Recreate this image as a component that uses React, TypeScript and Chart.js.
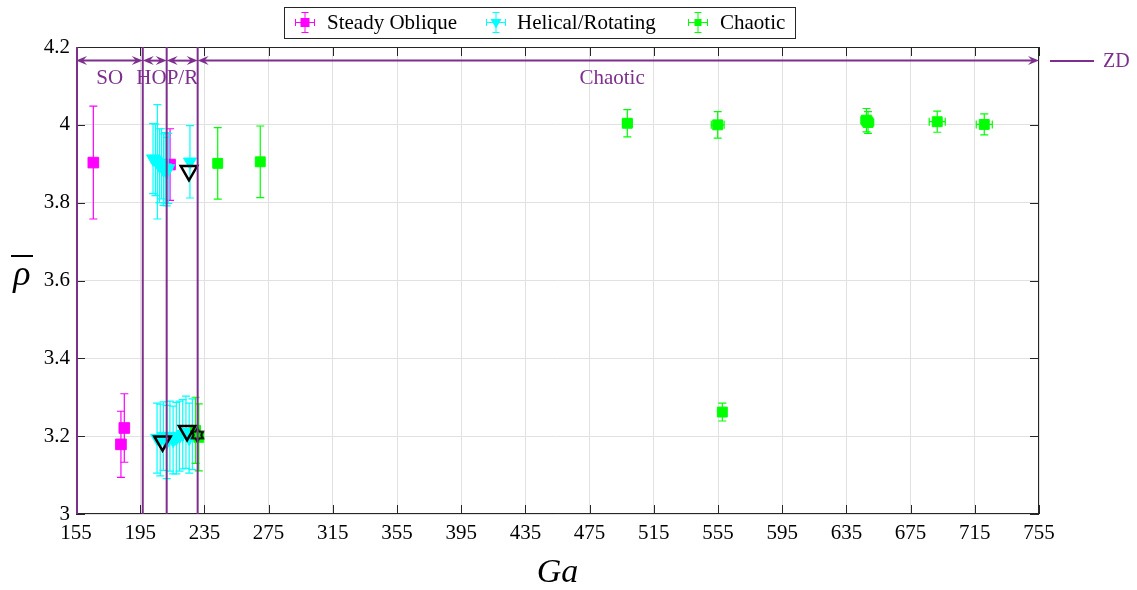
import React, { useEffect, useRef } from 'react';
import { Chart, registerables } from 'chart.js';

Chart.register(...registerables);

// ---------------- data ----------------
const soGa = [165.8, 213.6, 185.1, 183.0];
const soRho = [3.903, 3.898, 3.221, 3.179];
const soRhoErr = [0.145, 0.092, 0.088, 0.085];
const soGaErr = [2.0, 1.2, 1.5, 1.5];

const hrGa = [203.0, 204.5, 205.7, 207.0, 208.2, 209.5, 210.5, 211.5, 212.5, 226.0,
  205.5, 207.5, 209.5, 211.5, 213.5, 215.5, 217.5, 219.5, 221.5, 223.5, 225.5, 227.5];
const hrRho = [3.913, 3.91, 3.905, 3.895, 3.9, 3.885, 3.89, 3.88, 3.888, 3.905,
  3.195, 3.19, 3.2, 3.185, 3.2, 3.19, 3.195, 3.2, 3.205, 3.21, 3.195, 3.205];
const hrRhoErr = [0.09, 0.092, 0.147, 0.095, 0.09, 0.092, 0.09, 0.088, 0.09, 0.093,
  0.09, 0.092, 0.088, 0.094, 0.09, 0.087, 0.092, 0.09, 0.089, 0.093, 0.09, 0.091];
const hrGaErr = [1.2, 1.2, 1.2, 1.2, 1.2, 1.2, 1.2, 1.2, 1.2, 1.2,
  1.2, 1.2, 1.2, 1.2, 1.2, 1.2, 1.2, 1.2, 1.2, 1.2, 1.2, 1.2];

const chGa = [229.5, 231.5, 243.3, 269.8, 498.5, 554.8, 557.7, 647.5, 648.5, 691.6, 720.9];
const chRho = [3.215, 3.197, 3.901, 3.905, 4.004, 4.0, 3.262, 4.012, 4.006, 4.008, 4.001];
const chRhoErr = [0.085, 0.086, 0.092, 0.092, 0.035, 0.034, 0.023, 0.03, 0.028, 0.027, 0.027];
const chGaErr = [1.5, 1.5, 1.5, 1.5, 3.0, 4.0, 2.0, 3.5, 3.5, 5.0, 5.0];

const refTriGa = [225.4, 208.9, 224.2];
const refTriRho = [3.882, 3.187, 3.214];
const refStarGa = [230.6];
const refStarRho = [3.203];

const seriesLabels = ['Steady Oblique', 'Helical/Rotating', 'Chaotic'];

const regimeBounds = [155, 196.6, 211.5, 230.8, 755];
const regimeLabels = ['SO', 'HO', 'P/R', 'Chaotic'];
const regimeLabelGa = [176, 211.5, 211.5, 489];
const regimeLabelAlign: CanvasTextAlign[] = ['center', 'right', 'left', 'center'];
const arrowRho = 4.165;
const regimeLabelRho = 4.118;

const xMin = 155, xMax = 755, xStep = 40;
const yMin = 3, yMax = 4.2, yStep = 0.2;

// ---------------- styles ----------------
const MAGENTA = '#FF00FF';
const CYAN = '#00FFFF';
const GREEN = '#00FF00';
const PURPLE = '#7E2F8E';
const AXIS = '#262626';
const GRID = '#e1e1e1';
const FONT = '"Liberation Serif", "Times New Roman", serif';

function pts(xs: number[], ys: number[]) {
  return xs.map((x, i) => ({ x, y: ys[i] }));
}

function makeHexagram(size: number, color: string, lw: number) {
  const c = document.createElement('canvas');
  c.width = size; c.height = size;
  const ctx = c.getContext('2d')!;
  const cx = size / 2, cy = size / 2;
  const r = size / 2 - lw;
  const ri = r / Math.sqrt(3);
  ctx.beginPath();
  for (let k = 0; k < 12; k++) {
    const a = -Math.PI / 2 + (k * Math.PI) / 6;
    const rr = k % 2 === 0 ? r : ri;
    const px = cx + rr * Math.cos(a), py = cy + rr * Math.sin(a);
    if (k === 0) ctx.moveTo(px, py); else ctx.lineTo(px, py);
  }
  ctx.closePath();
  ctx.lineWidth = lw;
  ctx.strokeStyle = color;
  ctx.stroke();
  return c;
}

const errorBarPlugin = {
  id: 'errorBars',
  beforeDatasetDraw(chart: any, args: any) {
    const ds = chart.data.datasets[args.index];
    if (!ds.errY) return;
    const xs = chart.scales.x, ys = chart.scales.y;
    const ctx = chart.ctx;
    const area = chart.chartArea;
    ctx.save();
    ctx.beginPath();
    ctx.rect(area.left, area.top, area.right - area.left, area.bottom - area.top);
    ctx.clip();
    ctx.strokeStyle = ds.errColor;
    ctx.lineWidth = 1.2;
    const cap = 4;
    ds.data.forEach((p: any, i: number) => {
      const px = xs.getPixelForValue(p.x);
      const py = ys.getPixelForValue(p.y);
      const yTop = ys.getPixelForValue(p.y + ds.errY[i]);
      const yBot = ys.getPixelForValue(p.y - ds.errY[i]);
      const xL = xs.getPixelForValue(p.x - ds.errX[i]);
      const xR = xs.getPixelForValue(p.x + ds.errX[i]);
      ctx.beginPath();
      ctx.moveTo(px, yTop); ctx.lineTo(px, yBot);
      ctx.moveTo(px - cap, yTop); ctx.lineTo(px + cap, yTop);
      ctx.moveTo(px - cap, yBot); ctx.lineTo(px + cap, yBot);
      ctx.moveTo(xL, py); ctx.lineTo(xR, py);
      ctx.moveTo(xL, py - cap); ctx.lineTo(xL, py + cap);
      ctx.moveTo(xR, py - cap); ctx.lineTo(xR, py + cap);
      ctx.stroke();
    });
    ctx.restore();
  },
};

function drawArrowHead(ctx: CanvasRenderingContext2D, tx: number, ty: number, dir: number) {
  const len = 11, half = 4.5, notch = 7;
  ctx.beginPath();
  ctx.moveTo(tx, ty);
  ctx.lineTo(tx - dir * len, ty - half);
  ctx.lineTo(tx - dir * notch, ty);
  ctx.lineTo(tx - dir * len, ty + half);
  ctx.closePath();
  ctx.fill();
}

const framePlugin = {
  id: 'frameAndRegimes',
  afterDatasetsDraw(chart: any) {
    const ctx: CanvasRenderingContext2D = chart.ctx;
    const { left, right, top, bottom } = chart.chartArea;
    const xs = chart.scales.x, ys = chart.scales.y;
    ctx.save();
    ctx.strokeStyle = AXIS;
    ctx.lineWidth = 1;
    ctx.strokeRect(left + 0.5, top + 0.5, right - left - 1, bottom - top - 1);
    const tl = 9;
    ctx.beginPath();
    xs.ticks.forEach((t: any) => {
      const px = Math.round(xs.getPixelForValue(t.value)) + 0.5;
      ctx.moveTo(px, bottom); ctx.lineTo(px, bottom - tl);
      ctx.moveTo(px, top); ctx.lineTo(px, top + tl);
    });
    ys.ticks.forEach((t: any) => {
      const py = Math.round(ys.getPixelForValue(t.value)) + 0.5;
      ctx.moveTo(left, py); ctx.lineTo(left + tl, py);
      ctx.moveTo(right, py); ctx.lineTo(right - tl, py);
    });
    ctx.stroke();

    ctx.strokeStyle = PURPLE;
    ctx.fillStyle = PURPLE;
    ctx.lineWidth = 2;
    for (let i = 0; i < regimeBounds.length - 1; i++) {
      const px = xs.getPixelForValue(regimeBounds[i]) + (i === 0 ? 1 : 0);
      ctx.beginPath();
      ctx.moveTo(px, top); ctx.lineTo(px, bottom);
      ctx.stroke();
    }
    const ay = ys.getPixelForValue(arrowRho);
    for (let i = 0; i < regimeBounds.length - 1; i++) {
      const x0 = xs.getPixelForValue(regimeBounds[i]);
      const x1 = xs.getPixelForValue(regimeBounds[i + 1]);
      ctx.beginPath();
      ctx.moveTo(x0 + 6, ay); ctx.lineTo(x1 - 6, ay);
      ctx.stroke();
      drawArrowHead(ctx, x0, ay, -1);
      drawArrowHead(ctx, x1, ay, 1);
    }
    ctx.font = `21px ${FONT}`;
    ctx.textBaseline = 'middle';
    const ly = ys.getPixelForValue(regimeLabelRho);
    regimeLabels.forEach((lab, i) => {
      ctx.textAlign = regimeLabelAlign[i];
      ctx.fillText(lab, xs.getPixelForValue(regimeLabelGa[i]), ly);
    });
    ctx.restore();
  },
};

const overlayPlugin = {
  id: 'overlay',
  afterDraw(chart: any) {
    const ctx: CanvasRenderingContext2D = chart.ctx;
    ctx.save();
    const bx = 284, by = 7, bw = 511, bh = 31;
    ctx.fillStyle = '#ffffff';
    ctx.fillRect(bx, by, bw, bh);
    ctx.strokeStyle = AXIS;
    ctx.lineWidth = 1;
    ctx.strokeRect(bx + 0.5, by + 0.5, bw, bh);
    const cy = by + bh / 2;
    const iconX = [305, 496, 698];
    const textX = [327, 517, 720];
    const colors = [MAGENTA, CYAN, GREEN];
    seriesLabels.forEach((lab, i) => {
      const cx = iconX[i];
      ctx.strokeStyle = colors[i];
      ctx.fillStyle = colors[i];
      ctx.lineWidth = 1;
      ctx.beginPath();
      ctx.moveTo(cx, cy - 10); ctx.lineTo(cx, cy + 10);
      ctx.moveTo(cx - 3.5, cy - 10); ctx.lineTo(cx + 3.5, cy - 10);
      ctx.moveTo(cx - 3.5, cy + 10); ctx.lineTo(cx + 3.5, cy + 10);
      ctx.moveTo(cx - 9.5, cy); ctx.lineTo(cx + 9.5, cy);
      ctx.moveTo(cx - 9.5, cy - 3.5); ctx.lineTo(cx - 9.5, cy + 3.5);
      ctx.moveTo(cx + 9.5, cy - 3.5); ctx.lineTo(cx + 9.5, cy + 3.5);
      ctx.stroke();
      if (i === 1) {
        ctx.beginPath();
        ctx.moveTo(cx - 5.5, cy - 3.5); ctx.lineTo(cx + 5.5, cy - 3.5); ctx.lineTo(cx, cy + 6);
        ctx.closePath(); ctx.fill();
      } else if (i === 0) {
        ctx.fillRect(cx - 4.5, cy - 4.5, 9, 9);
      } else {
        ctx.fillRect(cx - 3.5, cy - 3.5, 7, 7);
      }
      ctx.fillStyle = '#000000';
      ctx.font = `21px ${FONT}`;
      ctx.textAlign = 'left';
      ctx.textBaseline = 'middle';
      ctx.fillText(lab, textX[i], cy + 1);
    });

    ctx.fillStyle = '#000000';
    ctx.font = `italic 36px ${FONT}`;
    ctx.textAlign = 'center';
    ctx.textBaseline = 'alphabetic';
    ctx.fillText('ρ', 22, 285);
    ctx.strokeStyle = '#000000';
    ctx.lineWidth = 2;
    ctx.beginPath();
    ctx.moveTo(11, 256); ctx.lineTo(33, 256);
    ctx.stroke();

    ctx.strokeStyle = PURPLE;
    ctx.lineWidth = 2;
    ctx.beginPath();
    ctx.moveTo(1050, 61); ctx.lineTo(1094, 61);
    ctx.stroke();
    ctx.fillStyle = PURPLE;
    ctx.font = `20px ${FONT}`;
    ctx.textAlign = 'left';
    ctx.textBaseline = 'middle';
    ctx.fillText('ZD', 1103, 62);
    ctx.restore();
  },
};

export default function App() {
  const ref = useRef<HTMLCanvasElement>(null);

  useEffect(() => {
    const canvas = ref.current;
    if (!canvas) return;
    const hexagram = makeHexagram(17, '#000000', 2);

    const chart = new Chart(canvas, {
      type: 'scatter',
      data: {
        datasets: [
          {
            label: 'ref-star',
            data: pts(refStarGa, refStarRho),
            pointStyle: hexagram as any,
            pointRadius: 8,
            order: 0,
          } as any,
          {
            label: 'ref-tri',
            data: pts(refTriGa, refTriRho),
            pointStyle: 'triangle',
            rotation: 180,
            pointRadius: 9.5,
            backgroundColor: 'rgba(0,0,0,0)',
            borderColor: '#000000',
            borderWidth: 2.5,
            order: 1,
          } as any,
          {
            label: seriesLabels[2],
            data: pts(chGa, chRho),
            pointStyle: 'rect',
            pointRadius: 7,
            backgroundColor: GREEN,
            borderColor: GREEN,
            borderWidth: 1,
            errY: chRhoErr,
            errX: chGaErr,
            errColor: GREEN,
            order: 2,
          } as any,
          {
            label: seriesLabels[1],
            data: pts(hrGa, hrRho),
            pointStyle: 'triangle',
            rotation: 180,
            pointRadius: 7.5,
            backgroundColor: CYAN,
            borderColor: CYAN,
            borderWidth: 1,
            errY: hrRhoErr,
            errX: hrGaErr,
            errColor: CYAN,
            order: 3,
          } as any,
          {
            label: seriesLabels[0],
            data: pts(soGa, soRho),
            pointStyle: 'rect',
            pointRadius: 7.5,
            backgroundColor: MAGENTA,
            borderColor: MAGENTA,
            borderWidth: 1,
            errY: soRhoErr,
            errX: soGaErr,
            errColor: MAGENTA,
            order: 4,
          } as any,
        ],
      },
      options: {
        responsive: false,
        animation: false,
        devicePixelRatio: 1,
        layout: { padding: { left: 0, right: 98, top: 47, bottom: 0 } },
        plugins: {
          legend: { display: false },
          tooltip: { enabled: false },
        },
        scales: {
          x: {
            type: 'linear',
            min: xMin,
            max: xMax,
            ticks: {
              stepSize: xStep,
              autoSkip: false,
              maxRotation: 0,
              padding: 7,
              color: '#000000',
              font: { family: FONT, size: 21 },
            },
            grid: { color: GRID, drawTicks: false, lineWidth: 1 },
            border: { display: false },
            title: {
              display: true,
              text: 'Ga',
              color: '#000000',
              padding: { top: 0, bottom: -3 },
              font: { family: FONT, size: 34, style: 'italic' },
            },
            afterFit: (s: any) => { s.height = 76; },
          },
          y: {
            type: 'linear',
            min: yMin,
            max: yMax,
            ticks: {
              stepSize: yStep,
              padding: 6,
              color: '#000000',
              font: { family: FONT, size: 21 },
              callback: (v: any) => String(Math.round(Number(v) * 10) / 10),
            },
            grid: { color: GRID, drawTicks: false, lineWidth: 1 },
            border: { display: false },
            afterFit: (s: any) => { s.width = 76; },
          },
        },
      } as any,
      plugins: [errorBarPlugin, framePlugin, overlayPlugin],
    });

    return () => chart.destroy();
  }, []);

  return (
    <div style={{ position: 'absolute', left: 0, top: 0, width: 1137, height: 590, background: '#ffffff' }}>
      <canvas ref={ref} width={1137} height={590} style={{ display: 'block' }} />
    </div>
  );
}
